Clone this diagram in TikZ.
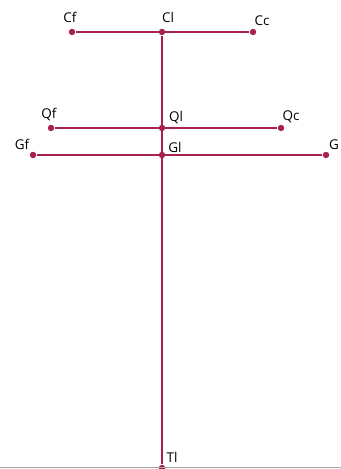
\documentclass[tikz,border=0pt]{standalone}
\usepackage{fontspec}
\setmainfont{Open Sans}
\usepackage{xcolor}
\definecolor{linecol}{RGB}{168,32,78}
\usetikzlibrary{arrows.meta,positioning}

\begin{document}
\begin{tikzpicture}[
            dot/.style={circle,fill=linecol,inner sep=0pt,minimum size=5.5pt},
            lbl/.style={font=\fontsize{11.5}{13}\selectfont,inner sep=0pt},
            every path/.style={line width=1.8pt}
        ]

        \useasboundingbox (0,0) rectangle (10.23,14.07);

        %================================================
        % Top bar: Cf -- Cl -- Cc
        %================================================
        \node[dot] (Cf) at (2.16,13.11) {};
        \node[dot] (Cl) at (4.86,13.11) {};
        \node[dot] (Cc) at (7.59,13.11) {};

        \node[lbl] (CfL) at (2.10,13.55) {Cf};
        \node[lbl] (ClL) at (5.04,13.55) {Cl};
        \node[lbl] (CcL) at (7.86,13.46) {Cc};

        %================================================
        % Middle bars: Qf -- Ql -- Qc and Gf -- Gl -- G
        %================================================
        \node[dot] (Qf) at (1.53,10.23) {};
        \node[dot] (Ql) at (4.86,10.23) {};
        \node[dot] (Qc) at (8.43,10.23) {};

        \node[lbl] (QfL) at (1.47,10.65) {Qf};
        \node[lbl] (QlL) at (5.28,10.55) {Ql};
        \node[lbl] (QcL) at (8.73,10.57) {Qc};

        \node[dot] (Gf) at (0.99,9.42) {};
        \node[dot] (Gl) at (4.86,9.42) {};
        \node[dot] (Gc) at (9.78,9.42) {};

        \node[lbl] (GfL) at (0.66,9.73) {Gf};
        \node[lbl] (GlL) at (5.25,9.65) {Gl};
        \node[lbl,anchor=east] (GcL) at (10.20,9.73) {G};

        %================================================
        % Bottom: Tl and ground line
        %================================================
        \node[dot] (Tl) at (4.86,0.03) {};
        \node[lbl] (TlL) at (5.16,0.34) {Tl};

        \coordinate (B1) at (0,0.06);
        \coordinate (B2) at (10.23,0.06);
        \draw[gray!70,line width=0.6pt] (B1) -- (B2);

        \draw[linecol] (Cf) -- (Cc);
        \draw[linecol] (Qf) -- (Qc);
        \draw[linecol] (Gf) -- (Gc);
        \draw[linecol] (Cl) -- (Tl);

        \end{tikzpicture}
\end{document}
